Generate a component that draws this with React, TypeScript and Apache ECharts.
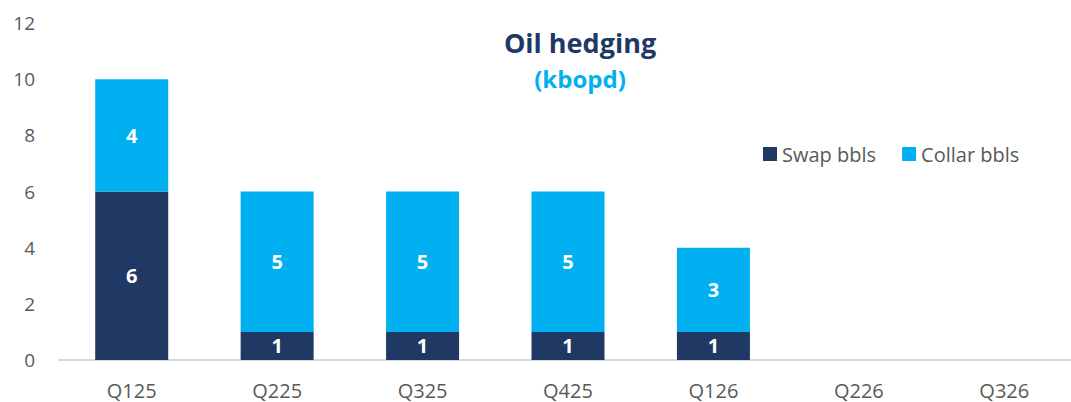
import React, { useEffect, useRef } from "react";
import * as echarts from "echarts";

const categories = ["Q125", "Q225", "Q325", "Q425", "Q126", "Q226", "Q326"];
const swapValues = [6, 1, 1, 1, 1, 0, 0];
const collarValues = [4, 5, 5, 5, 3, 0, 0];
const yTicks = { min: 0, max: 12, interval: 2 };

const NAVY = "#203864";
const CYAN = "#00B0F0";
const GREY = "#595959";
const FONT = "'Open Sans', sans-serif";

export default function App() {
  const ref = useRef<HTMLDivElement>(null);
  useEffect(() => {
    if (!ref.current) return;
    const chart = echarts.init(ref.current, undefined, { renderer: "svg" });
    const labelCfg = {
      show: true,
      position: "inside",
      color: "#ffffff",
      fontWeight: "bold",
      fontSize: 20,
      fontFamily: FONT,
      formatter: (p: any) => (p.value ? String(p.value) : ""),
    };
    chart.setOption({
      animation: false,
      textStyle: { fontFamily: FONT },
      title: [
        {
          text: "Oil hedging",
          left: 575,
          top: 24,
          textAlign: "center",
          textStyle: { color: NAVY, fontSize: 27, fontWeight: "bold", fontFamily: FONT },
        },
        {
          text: "(kbopd)",
          left: 575,
          top: 61,
          textAlign: "center",
          textStyle: { color: CYAN, fontSize: 24, fontWeight: "bold", fontFamily: FONT },
        },
      ],
      legend: {
        left: 758,
        top: 139,
        itemWidth: 14,
        itemHeight: 14,
        itemGap: 26,
        icon: "rect",
        textStyle: { color: GREY, fontSize: 20, fontFamily: FONT },
        data: ["Swap bbls", "Collar bbls"],
      },
      grid: { left: 59, right: 3, top: 23, bottom: 42 },
      xAxis: {
        type: "category",
        data: categories,
        axisLine: { lineStyle: { color: "#d9d9d9", width: 2 } },
        axisTick: { show: false },
        axisLabel: { color: GREY, fontSize: 20, fontFamily: FONT, margin: 20 },
      },
      yAxis: {
        type: "value",
        min: yTicks.min,
        max: yTicks.max,
        interval: yTicks.interval,
        splitLine: { show: false },
        axisLine: { show: false },
        axisTick: { show: false },
        axisLabel: { color: GREY, fontSize: 19, fontFamily: FONT, margin: 24 },
      },
      series: [
        {
          name: "Swap bbls",
          type: "bar",
          stack: "total",
          barWidth: 73,
          data: swapValues,
          itemStyle: { color: NAVY },
          label: labelCfg,
        },
        {
          name: "Collar bbls",
          type: "bar",
          stack: "total",
          barWidth: 73,
          data: collarValues,
          itemStyle: { color: CYAN },
          label: labelCfg,
        },
      ],
    });
    return () => chart.dispose();
  }, []);
  return (
    <div style={{ position: "absolute", left: 0, top: 0, width: 1071, height: 402, overflow: "hidden", background: "#fff" }}>
      <div ref={ref} style={{ width: 1080, height: 402 }} />
    </div>
  );
}
